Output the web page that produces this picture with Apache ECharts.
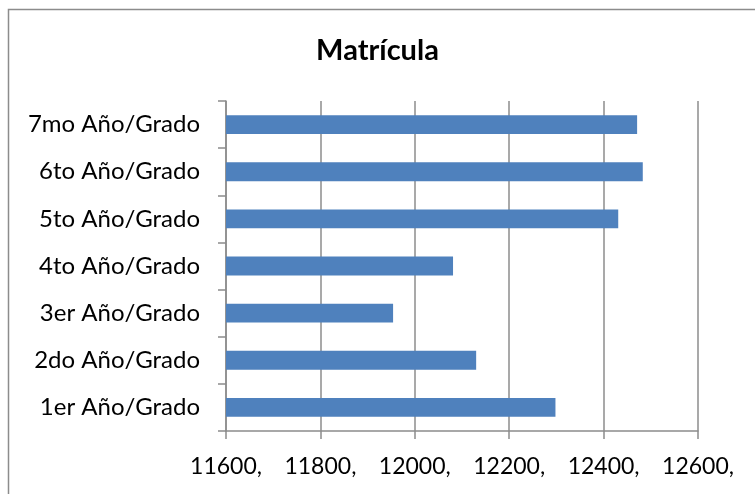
<!DOCTYPE html>
<html>
<head>
<meta charset="utf-8">
<script src="https://cdn.jsdelivr.net/npm/echarts@6/dist/echarts.min.js"></script>
<style>
  html, body { margin: 0; padding: 0; background: #fff; }
  #chart { width: 755px; height: 494px; }
</style>
</head>
<body>
<div id="chart"></div>
<script>
  // grades, bottom to top as drawn
  const grades = ['1er Año/Grado', '2do Año/Grado', '3er Año/Grado', '4to Año/Grado',
    '5to Año/Grado', '6to Año/Grado', '7mo Año/Grado']
  const matricula = [12298, 12130, 11954, 12081, 12431, 12483, 12471]
  const xMin = 11600
  const xMax = 12600
  const xStep = 200

  const chart = echarts.init(document.getElementById('chart'))
  const fontFam = 'Lato, sans-serif'
  const lineColor = '#8c8c8c'

  chart.setOption({
    animation: false,
    title: {
      text: 'Matrícula',
      left: 'center',
      top: 31,
      textStyle: { fontFamily: fontFam, fontSize: 29, fontWeight: 'bold', color: '#000' }
    },
    graphic: [{
      type: 'polyline',
      shape: { points: [[8.5, 500], [8.5, 9.5], [760, 9.5]] },
      style: { stroke: lineColor, lineWidth: 1.5, fill: null }
    }],
    grid: { left: 226, right: 57, top: 101, bottom: 63 },
    xAxis: {
      type: 'value',
      min: xMin,
      max: xMax,
      interval: xStep,
      axisLine: { show: true, lineStyle: { color: lineColor, width: 1.5 } },
      axisTick: { show: true, length: 8, lineStyle: { color: lineColor, width: 1.5 } },
      splitLine: { show: true, lineStyle: { color: lineColor, width: 1.5 } },
      axisLabel: {
        margin: 24,
        fontFamily: fontFam,
        fontSize: 23,
        color: '#000',
        formatter: v => v + ','
      }
    },
    yAxis: {
      type: 'category',
      data: grades,
      axisLine: { show: true, lineStyle: { color: lineColor, width: 1.5 } },
      axisTick: { show: true, length: 8, lineStyle: { color: lineColor, width: 1.5 } },
      axisLabel: { margin: 26, fontFamily: fontFam, fontSize: 24, color: '#000' }
    },
    series: [{
      type: 'bar',
      data: matricula,
      barCategoryGap: '60%',
      itemStyle: { color: '#4f81bd' }
    }]
  })
</script>
</body>
</html>
